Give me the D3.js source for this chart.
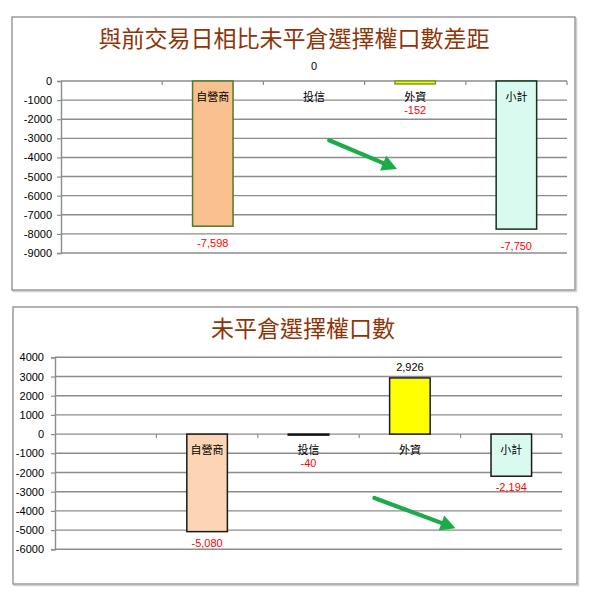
<!DOCTYPE html>
<html><head><meta charset="utf-8">
<script src="https://cdn.jsdelivr.net/npm/d3@7"></script>
<style>
html,body{margin:0;padding:0;background:#fff;}
svg{display:block;}
</style></head>
<body>
<svg id="c" width="591" height="600"></svg>
<script>
// ---- data ----
const categories = ["", "自營商", "投信", "外資", "小計"];
const diffValues = [null, -7598, 0, -152, -7750];
const oiValues   = [null, -5080, -40, 2926, -2194];
const diffTicks = [0, -1000, -2000, -3000, -4000, -5000, -6000, -7000, -8000, -9000];
const oiTicks   = [4000, 3000, 2000, 1000, 0, -1000, -2000, -3000, -4000, -5000, -6000];
const diffTitle = "與前交易日相比未平倉選擇權口數差距";
const oiTitle   = "未平倉選擇權口數";

const svg = d3.select("#c");
const loc = d3.formatLocale({decimal: ".", thousands: ",", grouping: [3], currency: ["", ""], minus: "-"});
const fmt = loc.format(",");
const fmtTick = loc.format("d");
const cjk = "'Noto Sans CJK TC','Noto Sans CJK SC',sans-serif";
const num = "'Liberation Sans',Arial,sans-serif";

function drawChart(cfg) {
  const g = svg.append("g");
  // frame with shadow
  g.append("rect").attr("x", cfg.frame[0] + 1.5).attr("y", cfg.frame[1] + 1.5)
    .attr("width", cfg.frame[2] - cfg.frame[0]).attr("height", cfg.frame[3] - cfg.frame[1])
    .attr("fill", "none").attr("stroke", "#d0d0d0").attr("stroke-width", 1.5);
  g.append("rect").attr("x", cfg.frame[0]).attr("y", cfg.frame[1])
    .attr("width", cfg.frame[2] - cfg.frame[0]).attr("height", cfg.frame[3] - cfg.frame[1])
    .attr("fill", "#fff").attr("stroke", "#8a8a8a").attr("stroke-width", 1.3);

  // title
  g.append("text").attr("x", cfg.titleX).attr("y", cfg.titleY)
    .attr("text-anchor", "middle").attr("font-family", cjk)
    .attr("font-size", 23).attr("font-weight", 400).attr("fill", "#8e3508")
    .text(cfg.title);

  const x = d3.scaleBand().domain(categories).range([cfg.left, cfg.right]).padding(0);
  const y = d3.scaleLinear().domain(cfg.domain).range([cfg.bottom, cfg.top]);
  const bw = x.bandwidth() * 0.4;

  // gridlines
  g.append("g").selectAll("line").data(cfg.ticks).join("line")
    .attr("x1", cfg.left).attr("x2", cfg.right)
    .attr("y1", d => y(d)).attr("y2", d => y(d))
    .attr("stroke", "#8c8c8c").attr("stroke-width", 1.4);

  // y axis
  const ax = g.append("g").attr("transform", `translate(${cfg.left},0)`)
    .call(d3.axisLeft(y).tickValues(cfg.ticks).tickSize(4).tickPadding(cfg.tickPad).tickFormat(fmtTick));
  ax.select(".domain").attr("stroke", "#8c8c8c").attr("stroke-width", 1.4);
  ax.selectAll(".tick line").attr("stroke", "#8c8c8c").attr("stroke-width", 1.2);
  ax.selectAll(".tick text").attr("font-family", num).attr("font-size", 11).attr("fill", "#000");

  // category ticks on zero line
  const bounds = categories.map(c => x(c)).slice(1).concat([cfg.right]);
  g.append("g").selectAll("line").data(bounds).join("line")
    .attr("x1", d => d).attr("x2", d => d)
    .attr("y1", y(0)).attr("y2", y(0) + 4)
    .attr("stroke", "#8c8c8c").attr("stroke-width", 1.2);

  // bars
  const data = categories.map((c, i) => ({ c, v: cfg.values[i], i })).filter(d => d.v !== null);
  g.append("g").selectAll("rect").data(data.filter(d => d.v !== 0)).join("rect")
    .attr("x", d => x(d.c) + x.bandwidth() / 2 - bw / 2)
    .attr("width", bw)
    .attr("y", d => Math.min(y(d.v), y(0)))
    .attr("height", d => Math.max(1, Math.abs(y(d.v) - y(0))))
    .attr("fill", d => cfg.fills[d.i])
    .attr("stroke", d => cfg.strokes[d.i])
    .attr("stroke-width", 1.5);

  // category labels (axis labels next to zero line)
  g.append("g").selectAll("text").data(data).join("text")
    .attr("x", d => x(d.c) + x.bandwidth() / 2)
    .attr("y", y(0) + 19.5)
    .attr("text-anchor", "middle").attr("font-family", cjk)
    .attr("font-size", 11).attr("fill", "#000")
    .text(d => d.c);

  // value labels
  g.append("g").selectAll("text").data(data).join("text")
    .attr("x", d => x(d.c) + x.bandwidth() / 2)
    .attr("y", d => {
      if (d.v > 0) return y(d.v) - cfg.posOff;
      if (d.v === 0) return y(0) - 11;
      return Math.max(y(d.v) + cfg.negOff, y(0) + 32.5);
    })
    .attr("text-anchor", "middle").attr("font-family", num)
    .attr("font-size", 11).attr("fill", d => d.v < 0 ? "#ff0000" : "#000")
    .text(d => fmt(d.v));

  // arrow annotation (in data coordinates)
  const a = cfg.arrow;
  const x1 = x(categories[a[0]]) + x.bandwidth() * a[1], y1 = y(a[2]);
  const x2 = x(categories[a[3]]) + x.bandwidth() * a[4], y2 = y(a[5]);
  const ang = Math.atan2(y2 - y1, x2 - x1);
  const hl = 15, hw = 8;
  const bx = x2 - hl * Math.cos(ang), by = y2 - hl * Math.sin(ang);
  g.append("line").attr("x1", x1).attr("y1", y1).attr("x2", bx + 2 * Math.cos(ang)).attr("y2", by + 2 * Math.sin(ang))
    .attr("stroke", "#1daa4a").attr("stroke-width", 4.2).attr("stroke-linecap", "round");
  const px = -Math.sin(ang), py = Math.cos(ang);
  g.append("path")
    .attr("d", `M${x2},${y2}L${bx + px * hw},${by + py * hw}L${bx - px * hw},${by - py * hw}Z`)
    .attr("fill", "#1daa4a");
}

drawChart({
  frame: [12, 17, 575, 290],
  title: diffTitle, titleX: 294, titleY: 47,
  left: 61, right: 567, top: 81, bottom: 253,
  domain: [-9000, 0], ticks: diffTicks, tickPad: 5,
  values: diffValues,
  fills: [null, "#fac090", "#ffff00", "#ffff00", "#d9fbef"],
  strokes: [null, "#4f7a28", "#6b8e23", "#7a9a20", "#12331a"],
  negOff: 21, posOff: 11,
  arrow: [2, 0.65, -3100, 3, 0.32, -4600]
});

drawChart({
  frame: [13, 307, 577, 584],
  title: oiTitle, titleX: 303, titleY: 337,
  left: 55, right: 562, top: 357.3, bottom: 549.3,
  domain: [-6000, 4000], ticks: oiTicks, tickPad: 7,
  values: oiValues,
  fills: [null, "#fcd5b4", "#222222", "#ffff00", "#dafaf0"],
  strokes: [null, "#1a1a1a", "#111111", "#1a1a40", "#1a1a1a"],
  negOff: 15, posOff: 7,
  arrow: [2, 1.15, -3330, 3, 0.95, -4900]
});
</script>
</body></html>
